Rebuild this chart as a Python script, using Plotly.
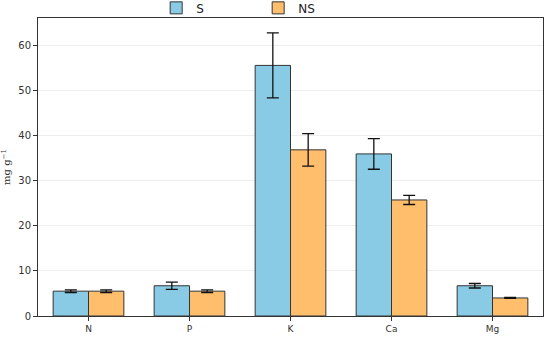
import plotly.graph_objects as go

categories = ["N", "P", "K", "Ca", "Mg"]
s_values = [5.5, 6.7, 55.5, 35.9, 6.7]
s_errors = [0.3, 0.8, 7.2, 3.4, 0.5]
ns_values = [5.5, 5.5, 36.8, 25.7, 4.0]
ns_errors = [0.3, 0.3, 3.6, 1.0, 0.1]
y_ticks = [0, 10, 20, 30, 40, 50, 60]

fig = go.Figure()
fig.add_trace(go.Bar(
    name="S", x=categories, y=s_values,
    marker=dict(color="#89CBE4", line=dict(color="#333333", width=1)),
    error_y=dict(type="data", array=s_errors, color="#111111", thickness=1.3, width=6),
))
fig.add_trace(go.Bar(
    name="NS", x=categories, y=ns_values,
    marker=dict(color="#FFBE6C", line=dict(color="#333333", width=1)),
    error_y=dict(type="data", array=ns_errors, color="#111111", thickness=1.3, width=6),
))

fig.update_layout(
    width=550, height=337,
    margin=dict(l=38, r=7, t=18, b=21, autoexpand=False),
    barmode="group", bargap=0.3, bargroupgap=0,
    plot_bgcolor="white", paper_bgcolor="white",
    font=dict(family="DejaVu Sans", size=10, color="#333333"),
    showlegend=True,
    legend=dict(orientation="h", x=0.234, xanchor="left", y=1.034, yanchor="middle",
                font=dict(size=12, color="#222222"), entrywidth=57, entrywidthmode="pixels",
                bgcolor="rgba(0,0,0,0)"),
)
fig.update_xaxes(showline=True, linecolor="#333333", linewidth=1, mirror=True,
                 ticks="outside", ticklen=4, tickcolor="#333333", showgrid=False,
                 tickfont=dict(size=9), automargin=False)
fig.update_yaxes(range=[0, 66], tickvals=y_ticks, showline=True, linecolor="#333333",
                 linewidth=1, mirror=True, ticks="outside", ticklen=4, tickcolor="#333333",
                 showgrid=True, gridcolor="#EEEEEE", gridwidth=1, zeroline=False,
                 tickfont=dict(size=10), automargin=False,
                 title=dict(text="mg g<sup>−1</sup>", font=dict(family="DejaVu Serif", size=10),
                            standoff=6))

fig.write_html("out.html", config={"displayModeBar": False},
               post_script="document.body.style.margin='0';document.body.style.overflow='hidden';")
